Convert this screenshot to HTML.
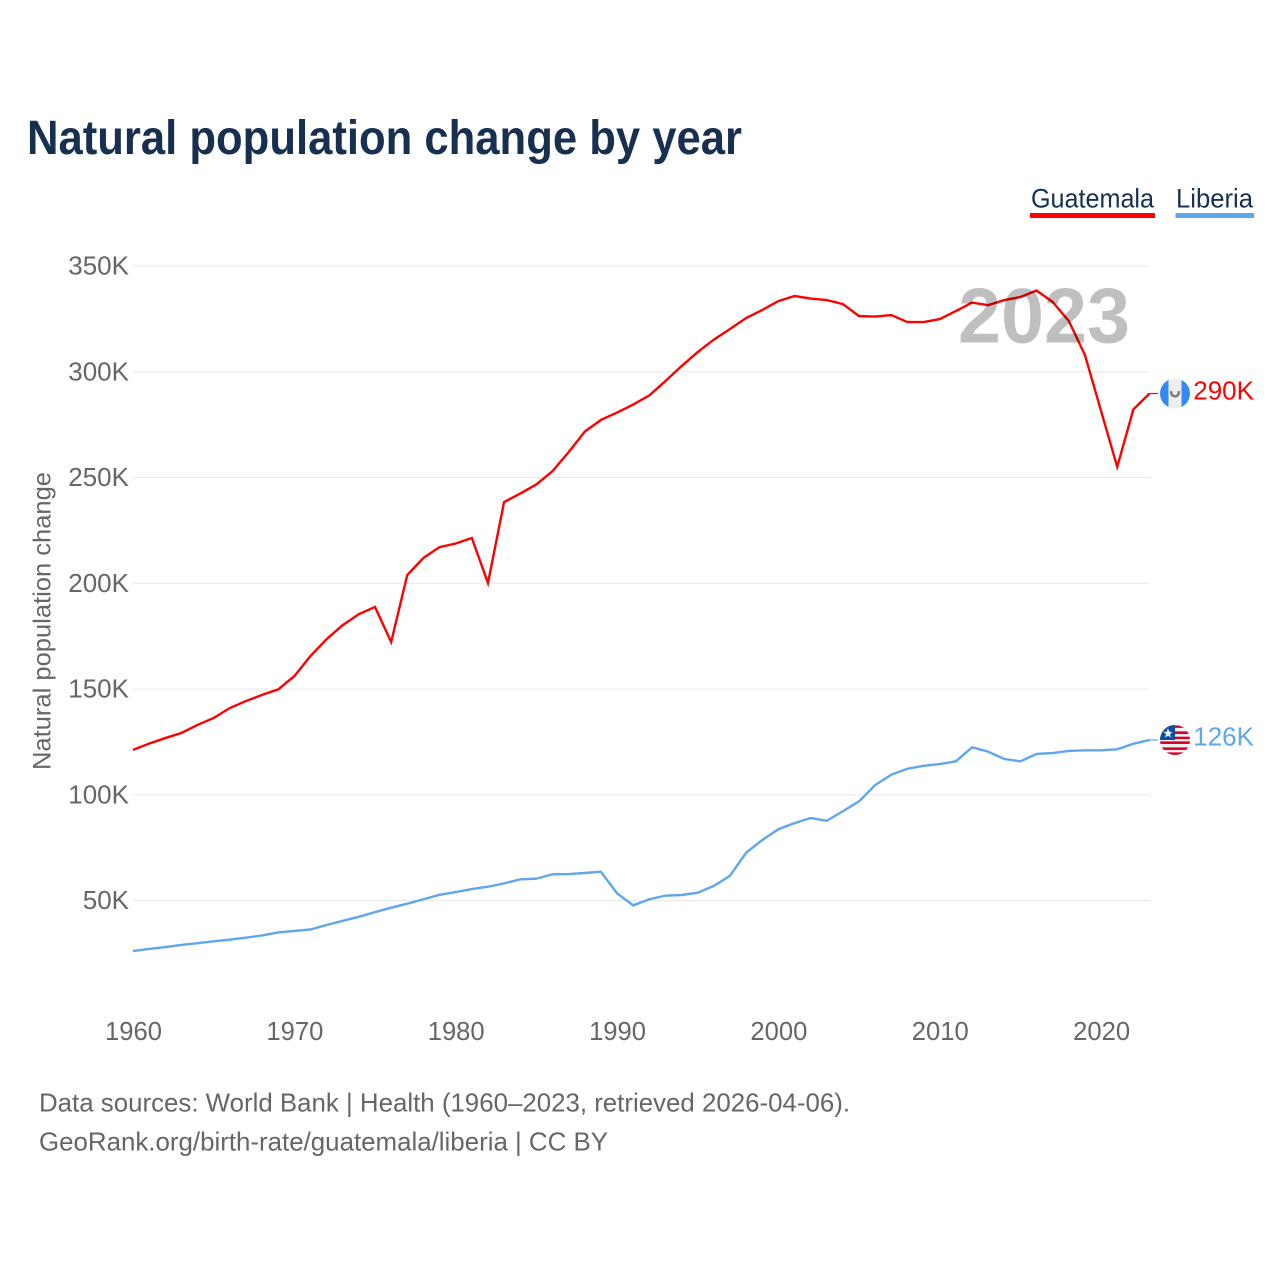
<!DOCTYPE html>
<html lang="en">
<head>
<meta charset="utf-8">
<title>Natural population change by year</title>
<style>
  html, body { margin: 0; padding: 0; background: #fff; }
  #chart { display: block; width: 1280px; height: 1280px; font-family: "Liberation Sans", sans-serif; }
  .tick { fill: #666; }
</style>
</head>
<body>
<svg id="chart" xmlns="http://www.w3.org/2000/svg" width="1280" height="1280" viewBox="0 0 1280 1280">
  <defs>
    <clipPath id="flag-clip-gt"><circle cx="1175" cy="0" r="15"></circle></clipPath>
    <clipPath id="flag-clip-lr"><circle cx="1175" cy="0" r="15"></circle></clipPath>
  </defs>
  <rect width="1280" height="1280" fill="#fff"></rect>
  <text x="27" y="154" font-size="48" font-weight="700" fill="#18304f" textLength="715" lengthAdjust="spacingAndGlyphs">Natural population change by year</text>

  <g>
    <g>
      <text x="1031" y="207.5" font-size="27" fill="#18304f" textLength="123" lengthAdjust="spacingAndGlyphs">Guatemala</text>
      <rect x="1030" y="213" width="125" height="5" fill="#ff0000"></rect>
    </g>
    <g>
      <text x="1176" y="207.5" font-size="27" fill="#18304f" textLength="77" lengthAdjust="spacingAndGlyphs">Liberia</text>
      <rect x="1175.5" y="213" width="78.5" height="5" fill="#5fa6ec"></rect>
    </g>
  </g>

  <g id="grid"></g>
  <g id="y-axis"></g>
  <g id="x-axis"></g>
  <text transform="translate(50.5 621) rotate(-90)" text-anchor="middle" font-size="25" fill="#666" textLength="298" lengthAdjust="spacingAndGlyphs">Natural population change</text>

  <g id="series"></g>

  <text x="1130" y="342.5" text-anchor="end" font-size="78" font-weight="700" fill="#000" fill-opacity="0.25" textLength="172" lengthAdjust="spacingAndGlyphs">2023</text>

  <g id="flag-gt">
    <g clip-path="url(#flag-clip-gt)">
      <rect x="1160" y="-15" width="30" height="30" fill="#eeeeee"></rect>
      <rect x="1160" y="-15" width="8.5" height="30" fill="#338af3"></rect>
      <rect x="1181.5" y="-15" width="8.5" height="30" fill="#338af3"></rect>
      <path d="M1171.5 -2.5 A3.8 3.8 0 1 0 1178.5 -2.5" fill="none" stroke="#777" stroke-width="2.4"></path>
    </g>
  </g>
  <g id="flag-lr">
    <g clip-path="url(#flag-clip-lr)">
      <rect x="1160" y="-15" width="30" height="30" fill="#f0f0f0"></rect>
      <rect x="1160" y="-14.5" width="30" height="2.4" fill="#d80027"></rect>
      <rect x="1160" y="-8.6" width="30" height="2.6" fill="#d80027"></rect>
      <rect x="1160" y="-3.3" width="30" height="2.4" fill="#d80027"></rect>
      <rect x="1160" y="1.4" width="30" height="2.6" fill="#d80027"></rect>
      <rect x="1160" y="7.4" width="30" height="2.6" fill="#d80027"></rect>
      <rect x="1160" y="12.4" width="30" height="2.6" fill="#d80027"></rect>
      <rect x="1160" y="-15" width="15" height="15" fill="#0b4ea2"></rect>
      <polygon points="1168,-11.6 1169.3,-8.2 1172.6,-8 1170,-5.8 1170.9,-2.4 1168,-4.3 1165.1,-2.4 1166,-5.8 1163.4,-8 1166.7,-8.2" fill="#f0f0f0"></polygon>
    </g>
  </g>
  <g id="end-labels"></g>

  <text x="39" y="1111.5" font-size="26" fill="#666" textLength="811" lengthAdjust="spacingAndGlyphs">Data sources: World Bank | Health (1960–2023, retrieved 2026-04-06).</text>
  <text x="39" y="1150.5" font-size="26" fill="#666" textLength="569" lengthAdjust="spacingAndGlyphs">GeoRank.org/birth-rate/guatemala/liberia | CC BY</text>
</svg>

<script>
const years = [1960,1961,1962,1963,1964,1965,1966,1967,1968,1969,1970,1971,1972,1973,1974,1975,1976,1977,1978,1979,1980,1981,1982,1983,1984,1985,1986,1987,1988,1989,1990,1991,1992,1993,1994,1995,1996,1997,1998,1999,2000,2001,2002,2003,2004,2005,2006,2007,2008,2009,2010,2011,2012,2013,2014,2015,2016,2017,2018,2019,2020,2021,2022,2023];
const guatemala = [121200,124200,126800,129200,133000,136300,141000,144300,147200,149800,156100,165600,173600,180200,185400,188800,172200,203900,212000,217100,218800,221400,200100,238400,242400,246700,253000,262000,271700,277200,280700,284500,288800,295600,302700,309300,315200,320200,325400,329200,333400,335800,334600,333900,332000,326300,326100,326800,323500,323500,324900,328700,332700,331500,333900,335300,338400,333000,324000,307900,281400,255000,282200,289700];
const liberia = [26100,27100,28000,29000,29800,30700,31500,32400,33500,34900,35600,36300,38400,40400,42300,44500,46600,48500,50600,52700,54000,55400,56500,58100,60000,60300,62400,62500,63000,63600,53400,47700,50600,52300,52600,53700,56900,61700,72600,78600,83700,86600,89000,87700,92200,96900,104600,109500,112300,113700,114500,115800,122400,120400,116900,115800,119300,119700,120700,121000,121000,121500,124100,125900];
const yTicks = [50000,100000,150000,200000,250000,300000,350000];
const yTickLabels = ["50K","100K","150K","200K","250K","300K","350K"];
const xTicks = [1960,1970,1980,1990,2000,2010,2020];
const guatemalaEndLabel = "290K";
const liberiaEndLabel = "126K";

const NS = "http://www.w3.org/2000/svg";
function xScale(year) { return 133 + (year - 1960) * (1149.5 - 133) / 63; }
function yScale(value) { return 900.5 - (value - 50000) * (900.5 - 266) / 300000; }
function make(tag, attrs, parent) {
  const el = document.createElementNS(NS, tag);
  for (const k in attrs) el.setAttribute(k, attrs[k]);
  parent.appendChild(el);
  return el;
}

const grid = document.getElementById("grid");
const yAxis = document.getElementById("y-axis");
const xAxis = document.getElementById("x-axis");
const seriesGroup = document.getElementById("series");
const endLabels = document.getElementById("end-labels");

yTicks.forEach(function (v, i) {
  const y = yScale(v);
  const line = make("line", { x1: 133, x2: 1149.5, y1: y, y2: y, stroke: "#e8e8e8", "stroke-width": 1 }, grid);
  
  
  const t = make("text", { x: 129, y: y + 8.5, "text-anchor": "end", "font-size": 26, class: "tick" }, yAxis);
  
  
  t.textContent = yTickLabels[i];
});

xTicks.forEach(function (yr) {
  const t = make("text", { x: xScale(yr) + 0.5, y: 1040, "text-anchor": "middle", "font-size": 25.6, class: "tick" }, xAxis);
  
  
  t.textContent = String(yr);
});

function drawSeries(values, color, seriesName) {
  const pts = values.map(function (v, i) { return xScale(years[i]).toFixed(2) + "," + yScale(v).toFixed(2); }).join(" ");
  const lineEl = make("polyline", { points: pts, fill: "none", stroke: color, "stroke-width": 2.4, "stroke-linejoin": "miter" }, seriesGroup);
  
  
  const lastY = yScale(values[values.length - 1]);
  const conn = make("line", { x1: xScale(years[years.length - 1]), x2: 1158, y1: lastY, y2: lastY, stroke: color, "stroke-width": 1.2 }, seriesGroup);
  
  
  return lastY;
}

const gtY = drawSeries(guatemala, "#ff0000", "guatemala");
const lrY = drawSeries(liberia, "#5fa6ec", "liberia");

document.getElementById("flag-gt").setAttribute("transform", "translate(0 " + gtY + ")");
document.getElementById("flag-lr").setAttribute("transform", "translate(0 " + lrY + ")");

const gtLabel = make("text", { x: 1254, y: gtY + 6.2, "text-anchor": "end", "font-size": 26, fill: "#ff0000" }, endLabels);


gtLabel.textContent = guatemalaEndLabel;

const lrLabel = make("text", { x: 1254, y: lrY + 5.7, "text-anchor": "end", "font-size": 26, fill: "#5fa6ec" }, endLabels);


lrLabel.textContent = liberiaEndLabel;
</script>
</body>
</html>
